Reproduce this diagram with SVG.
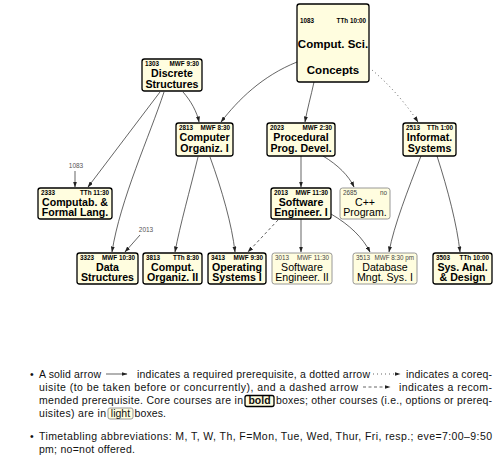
<svg xmlns="http://www.w3.org/2000/svg" width="500" height="466" viewBox="0 0 500 466">
<style>
text{font-family:"Liberation Sans",Arial,sans-serif;fill:#000}
.b rect{fill:#fffddf;stroke:#000;stroke-width:1.3}
.l rect{fill:#fffddf;stroke:#8c8c8c;stroke-width:0.9}
.h{font-size:6.3px;font-weight:bold}
.hr{text-anchor:end}
.t{font-size:10.6px;font-weight:bold;text-anchor:middle}
.l .t{font-weight:normal}
.l .h{font-weight:normal;fill:#444}
.e{fill:none;stroke:#222;stroke-width:0.7}
.dot{stroke-dasharray:1 3}
.dash{stroke-dasharray:3 2.5}
.lab{font-size:6.5px;fill:#555;text-anchor:middle}
.p{font-size:10.5px;fill:#111}
</style>
<defs>
<marker id="ah" markerUnits="userSpaceOnUse" markerWidth="6" markerHeight="4" refX="5.5" refY="2" orient="auto">
<path d="M0,0 L6,2 L0,4 z" fill="#222"/>
</marker>
</defs>

<g id="connectors">
<path class="e" d="M297,62 C262,76 238,100 221,122" marker-end="url(#ah)"/>
<path class="e" d="M314,82 C311,96 307,110 305,122" marker-end="url(#ah)"/>
<path class="e dot" d="M372,70 C390,85 407,105 418,122" marker-end="url(#ah)"/>
<path class="e" d="M160,92 L88,187" marker-end="url(#ah)"/>
<path class="e" d="M164,92 C150,135 120,200 112,252" marker-end="url(#ah)"/>
<path class="e" d="M183,92 C191,101 197,112 199,122" marker-end="url(#ah)"/>
<path class="e" d="M75,171 L75,187" marker-end="url(#ah)"/>
<path class="e" d="M140,235 L125,252" marker-end="url(#ah)"/>
<path class="e" d="M198,157 C190,190 180,225 175,252" marker-end="url(#ah)"/>
<path class="e" d="M210,157 C222,190 232,225 235,252" marker-end="url(#ah)"/>
<path class="e" d="M301,156 L301,187" marker-end="url(#ah)"/>
<path class="e" d="M323,156 C338,165 349,176 354,187" marker-end="url(#ah)"/>
<path class="e dash" d="M278,220 L248,252" marker-end="url(#ah)"/>
<path class="e" d="M301,219 L301,252" marker-end="url(#ah)"/>
<path class="e" d="M331,214 C350,225 363,238 370,252" marker-end="url(#ah)"/>
<path class="e" d="M421,156 C408,190 394,225 389,252" marker-end="url(#ah)"/>
<path class="e" d="M437,156 C448,190 457,225 460,252" marker-end="url(#ah)"/>
<text class="lab" x="76" y="168">1083</text>
<text class="lab" x="146" y="232">2013</text>
</g>

<g id="n1083" class="b">
<rect x="297" y="4" width="72" height="78" rx="2.5"/>
<text class="h" x="300" y="23">1083</text><text class="h hr" x="366" y="23">TTh 10:00</text>
<text class="t" x="333" y="47.5" style="font-size:11.5px">Comput. Sci.</text>
<text class="t" x="333" y="73.5" style="font-size:11.5px">Concepts</text>
</g>
<g id="n1303" class="b">
<rect x="142" y="59" width="60" height="32" rx="2.5"/>
<text class="h" x="145" y="65.8">1303</text><text class="h hr" x="199" y="65.8">MWF 9:30</text>
<text class="t" x="172" y="76.7">Discrete</text><text class="t" x="172" y="87.5">Structures</text>
</g>
<g id="n2813" class="b">
<rect x="176" y="123" width="57" height="33" rx="2.5"/>
<text class="h" x="179" y="129.8">2813</text><text class="h hr" x="230" y="129.8">MWF 8:30</text>
<text class="t" x="204.5" y="140.7">Computer</text><text class="t" x="204.5" y="151.5">Organiz. I</text>
</g>
<g id="n2023" class="b">
<rect x="267" y="123" width="68" height="33" rx="2.5"/>
<text class="h" x="270" y="129.8">2023</text><text class="h hr" x="332" y="129.8">MWF 2:30</text>
<text class="t" x="301" y="140.7">Procedural</text><text class="t" x="301" y="151.5">Prog. Devel.</text>
</g>
<g id="n2513" class="b">
<rect x="403" y="123" width="53" height="33" rx="2.5"/>
<text class="h" x="406" y="129.8">2513</text><text class="h hr" x="453" y="129.8">TTh 1:00</text>
<text class="t" x="429.5" y="140.7">Informat.</text><text class="t" x="429.5" y="151.5">Systems</text>
</g>
<g id="n2333" class="b">
<rect x="38" y="188" width="74" height="31" rx="2.5"/>
<text class="h" x="41" y="194.8">2333</text><text class="h hr" x="109" y="194.8">TTh 11:30</text>
<text class="t" x="75" y="205.5">Computab. &amp;</text><text class="t" x="75" y="216.3">Formal Lang.</text>
</g>
<g id="n2013" class="b">
<rect x="271" y="188" width="60" height="31" rx="2.5"/>
<text class="h" x="274" y="194.8">2013</text><text class="h hr" x="328" y="194.8">MWF 11:30</text>
<text class="t" x="301" y="205.5">Software</text><text class="t" x="301" y="216.3">Engineer. I</text>
</g>
<g id="n2685" class="l">
<rect x="340" y="188" width="50" height="31" rx="2.5"/>
<text class="h" x="343" y="194.8">2685</text><text class="h hr" x="387" y="194.8">no</text>
<text class="t" x="365" y="205.5">C++</text><text class="t" x="365" y="216.3">Program.</text>
</g>
<g id="n3323" class="b">
<rect x="77" y="253" width="61" height="31" rx="2.5"/>
<text class="h" x="80" y="259.8">3323</text><text class="h hr" x="135" y="259.8">MWF 10:30</text>
<text class="t" x="107.5" y="270.5">Data</text><text class="t" x="107.5" y="281.3">Structures</text>
</g>
<g id="n3813" class="b">
<rect x="143" y="253" width="59" height="31" rx="2.5"/>
<text class="h" x="146" y="259.8">3813</text><text class="h hr" x="199" y="259.8">TTh 8:30</text>
<text class="t" x="172.5" y="270.5">Comput.</text><text class="t" x="172.5" y="281.3">Organiz. II</text>
</g>
<g id="n3413" class="b">
<rect x="208" y="253" width="58" height="31" rx="2.5"/>
<text class="h" x="211" y="259.8">3413</text><text class="h hr" x="263" y="259.8">MWF 9:30</text>
<text class="t" x="237" y="270.5">Operating</text><text class="t" x="237" y="281.3">Systems I</text>
</g>
<g id="n3013" class="l">
<rect x="272" y="253" width="60" height="31" rx="2.5"/>
<text class="h" x="275" y="259.8">3013</text><text class="h hr" x="329" y="259.8">MWF 11:30</text>
<text class="t" x="302" y="270.5">Software</text><text class="t" x="302" y="281.3">Engineer. II</text>
</g>
<g id="n3513" class="l">
<rect x="353" y="253" width="64" height="31" rx="2.5"/>
<text class="h" x="356" y="259.8">3513</text><text class="h hr" x="414" y="259.8">MWF 8:30 pm</text>
<text class="t" x="385" y="270.5">Database</text><text class="t" x="385" y="281.3">Mngt. Sys. I</text>
</g>
<g id="n3503" class="b">
<rect x="433" y="253" width="59" height="31" rx="2.5"/>
<text class="h" x="436" y="259.8">3503</text><text class="h hr" x="489" y="259.8">TTh 10:00</text>
<text class="t" x="462.5" y="270.5">Sys. Anal.</text><text class="t" x="462.5" y="281.3">&amp; Design</text>
</g>

<g id="legend">
<text class="p" x="30" y="377.5">•</text>
<text class="p" x="39" y="377.5" textLength="62" lengthAdjust="spacing">A solid arrow</text>
<path class="e" d="M106,374 L127,374" marker-end="url(#ah)"/>
<text class="p" x="137" y="377.5" textLength="233" lengthAdjust="spacing">indicates a required prerequisite, a dotted arrow</text>
<path class="e dot" d="M373,374 L400,374" marker-end="url(#ah)"/>
<text class="p" x="406" y="377.5" textLength="86" lengthAdjust="spacing">indicates a coreq-</text>
<text class="p" x="39" y="390.5" textLength="319" lengthAdjust="spacing">uisite (to be taken before or concurrently), and a dashed arrow</text>
<path class="e dash" d="M363,387 L390,387" marker-end="url(#ah)"/>
<text class="p" x="399" y="390.5" textLength="93" lengthAdjust="spacing">indicates a recom-</text>
<text class="p" x="39" y="404" textLength="204" lengthAdjust="spacing">mended prerequisite. Core courses are in</text>
<g class="b"><rect x="245" y="395.5" width="29" height="11" rx="2"/></g>
<text class="p" x="259.5" y="404" style="font-weight:bold;text-anchor:middle">bold</text>
<text class="p" x="276" y="404" textLength="216" lengthAdjust="spacing">boxes; other courses (i.e., options or prereq-</text>
<text class="p" x="39" y="417" textLength="67" lengthAdjust="spacing">uisites) are in</text>
<g class="l"><rect x="108" y="408" width="25" height="11" rx="2"/></g>
<text class="p" x="120.5" y="417" style="text-anchor:middle">light</text>
<text class="p" x="134.5" y="417" textLength="31.5" lengthAdjust="spacing">boxes.</text>
<text class="p" x="30" y="439.5">•</text>
<text class="p" x="39" y="439.5" textLength="453" lengthAdjust="spacing">Timetabling abbreviations: M, T, W, Th, F=Mon, Tue, Wed, Thur, Fri, resp.; eve=7:00–9:50</text>
<text class="p" x="39" y="452.5" textLength="96" lengthAdjust="spacing">pm; no=not offered.</text>
</g>
</svg>
